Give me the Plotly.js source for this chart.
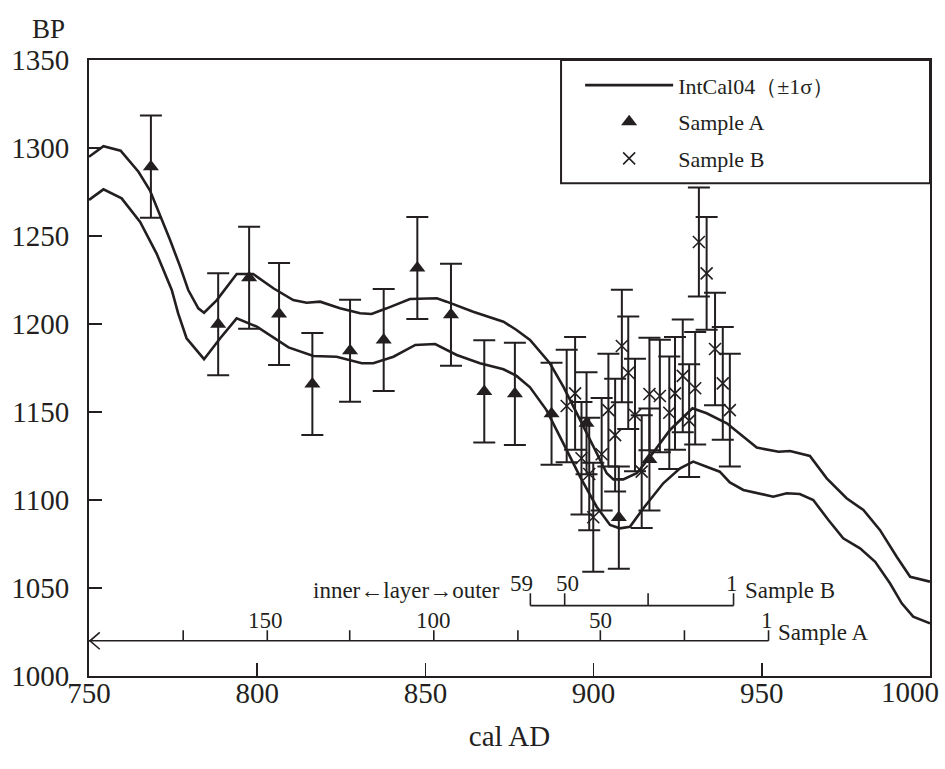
<!DOCTYPE html>
<html>
<head>
<meta charset="utf-8">
<script src="https://cdn.plot.ly/plotly-3.0.1.min.js"></script>
<style>html,body{margin:0;padding:0;background:#fff;}#chart{width:945px;height:769px;}</style>
</head>
<body>
<div id="chart"></div>
<script>
// IntCal04 ±1σ band (cal AD, BP)
const calYears = [750,754.3,759.4,764.7,768.1,771.1,774.1,777.1,779.5,782.5,784.2,788,793.9,798.8,804.8,810.7,814.7,818.7,824.6,830.6,834,838.5,845.4,853.4,856.3,864.2,873.2,877.1,881.1,887,891,896,899.9,903.9,905.9,908.8,912.8,916.8,922.7,929.4,933.6,939.6,948.5,955,958.4,964.3,969.3,975.2,980.2,985.1,990.1,994.1,1000];
const upperBP = [1295,1301,1298.5,1286.5,1276,1262,1247.7,1232.6,1219.3,1208.9,1206.4,1213.6,1228.4,1228.4,1220.3,1213.6,1212.1,1212.7,1208.9,1206.1,1205.7,1208.9,1214.2,1214.6,1212.7,1207,1201.3,1196.6,1190.9,1177.7,1164.4,1145.5,1130.3,1115.2,1111.7,1111.7,1115.2,1124.6,1139.8,1152.1,1149.3,1143.6,1129.8,1127.4,1127.8,1125,1112.3,1101,1094.3,1083,1067.8,1056.4,1053.6];
const calYearsLow = [750,754.3,759.7,765.2,770.1,774.6,776.5,779,784.2,789,793.9,799.9,809.3,816.7,823.6,831.1,834.5,840.5,847,852.9,859.3,866.2,873.2,877.1,881.1,886,891,896,900.9,904.9,907.8,910.8,914.8,920.7,925.7,929.6,933.6,937.5,940.5,944.5,953.4,957.4,961.3,965.3,969.8,974.2,979.2,983.7,988.1,991.6,995,1000];
const lowerBP = [1270.5,1276.5,1271.4,1258,1240,1219.3,1206,1191.9,1180,1191.9,1203.2,1198.5,1186.7,1181.8,1181.4,1177.7,1177.7,1181.4,1188.1,1188.6,1182.4,1177.7,1174.3,1170.5,1164,1151.1,1132.2,1113.2,1096.2,1085.8,1083.9,1084.8,1095.3,1109.5,1118,1121.8,1118.9,1116.1,1110,1105.7,1101.9,1103.8,1103.4,1100,1088.6,1078.2,1072.5,1064.9,1052.7,1041.3,1033.7,1029.9];

// Sample A
const aYear = [768.4,788.4,797.6,806.5,816.4,827.6,837.6,847.6,857.6,867.5,876.6,887.5,897.9,907.5,916.6];
const aBP   = [1289.4,1199.9,1226.3,1205.7,1165.9,1184.8,1190.9,1231.8,1205.3,1161.7,1160.3,1149,1143.6,1090,1123];
const aErr  = [29,29,29,29,29,29,29,29,29,29,29,29,29,29,29];

// Sample B
const bYear = [892,894.5,896.4,898.7,899.9,902.4,904.4,906.4,908.4,910.3,912.3,914.3,916.6,919.7,922.5,924.2,926.5,928.4,930.2,931.3,933.6,936.1,938.4,940.5];
const bBP   = [1153.4,1160.6,1123.7,1114.8,1090.2,1126,1151.1,1136.9,1187.5,1172.3,1148.3,1116.1,1160.2,1159.1,1149.6,1160.6,1170.5,1145.1,1163.5,1246.6,1228.8,1185.8,1166.3,1151.1];
const bErr  = [32,32,32,32,31,32,32,32,32,32,32,32,32,32,32,32,32,32,32,31,32,32,32,32];

// Tree-ring scales
const ringTicksA = [175,150,125,100,75,50,25,1];
const ringTickYearA = [778,803,827.5,852.5,877.5,902,927,952];
const ringLabelsA = ['150','100','50','1'];
const ringLabelYearA = [802.5,852.3,902,951.4];
const ringTicksB = [59,50,25,1];
const ringTickYearB = [881.2,891.4,916.2,941.6];
const ringLabelsB = ['59','50','1'];
const ringLabelYearB = [878.6,892.2,941.2];

// Axis ticks (the last x label is drawn right-aligned so it stays inside the page)
const xTickVals = [750,800,850,900,950,1000];
const xTickText = ['750','800','850','900','950',''];
const xLastLabel = '1000';
const yTickVals = [1000,1050,1100,1150,1200,1250,1300,1350];

const INK = '#231f20';
const FONT = 'Liberation Serif, Times New Roman, serif';
const scaleAY = 1020, scaleBY = 1040;

const traces = [
  {x: calYears, y: upperBP, type:'scatter', mode:'lines', name:'IntCal04（±1σ）', legendgroup:'ic',
   line:{color:INK, width:2.6}},
  {x: calYearsLow, y: lowerBP, type:'scatter', mode:'lines', name:'IntCal04 lower', legendgroup:'ic', showlegend:false,
   line:{color:INK, width:2.6}},
  {x: aYear, y: aBP, type:'scatter', mode:'markers', name:'Sample A', legendgroup:'a',
   marker:{symbol:'triangle-up', size:14, color:INK},
   error_y:{type:'data', array:aErr, visible:true, color:INK, thickness:2, width:11}},
  {x: bYear, y: bBP, type:'scatter', mode:'markers', name:'Sample B', legendgroup:'b',
   marker:{symbol:'x-thin-open', size:12, color:INK, line:{color:INK, width:1.6}},
   error_y:{type:'data', array:bErr, visible:true, color:INK, thickness:2, width:11}}
];

const shapes = [];
const lineStyle = {color:INK, width:1.6};
// Sample A scale
shapes.push({type:'line', xref:'x', yref:'y', x0:750, x1:ringTickYearA[ringTickYearA.length-1], y0:scaleAY, y1:scaleAY, line:lineStyle});
ringTickYearA.forEach(function(yr){
  shapes.push({type:'line', xref:'x', yref:'y', x0:yr, x1:yr, y0:scaleAY, y1:scaleAY+6, line:lineStyle});
});
shapes.push({type:'path', xref:'x', yref:'y', path:'M 753.2,' + (scaleAY+4.8) + ' L 750.3,' + scaleAY + ' L 753.2,' + (scaleAY-4.8), line:lineStyle});
// Sample B scale
shapes.push({type:'line', xref:'x', yref:'y', x0:ringTickYearB[0], x1:ringTickYearB[ringTickYearB.length-1], y0:scaleBY, y1:scaleBY, line:lineStyle});
ringTickYearB.forEach(function(yr){
  shapes.push({type:'line', xref:'x', yref:'y', x0:yr, x1:yr, y0:scaleBY, y1:scaleBY+7, line:lineStyle});
});
// legend frame
shapes.push({type:'rect', xref:'paper', yref:'paper', x0:0.5613, x1:1, y0:0.8, y1:1, line:{color:INK, width:2}, fillcolor:'rgba(0,0,0,0)', layer:'above'});

const annFont = {family:FONT, size:23, color:INK};
const annotations = [];
ringLabelsA.forEach(function(t,i){
  annotations.push({x:ringLabelYearA[i], y:1031.5, xref:'x', yref:'y', text:t, showarrow:false, font:annFont, xanchor:'center', yanchor:'middle'});
});
ringLabelsB.forEach(function(t,i){
  annotations.push({x:ringLabelYearB[i], y:1052.8, xref:'x', yref:'y', text:t, showarrow:false, font:annFont, xanchor:'center', yanchor:'middle'});
});
annotations.push({x:ringTickYearA[ringTickYearA.length-1], y:1025, xref:'x', yref:'y', text:'Sample A', showarrow:false, font:annFont, xanchor:'left', yanchor:'middle', xshift:7});
annotations.push({x:ringTickYearB[ringTickYearB.length-1], y:1048.3, xref:'x', yref:'y', text:'Sample B', showarrow:false, font:annFont, xanchor:'left', yanchor:'middle', xshift:9});
annotations.push({x:ringTickYearB[0], y:1048.3, xref:'x', yref:'y', text:'inner←layer→outer', showarrow:false, font:annFont, xanchor:'right', yanchor:'middle', xshift:-28});
annotations.push({x:-0.0702, y:1.0503, xref:'paper', yref:'paper', text:'BP', showarrow:false, font:{family:FONT, size:27, color:INK}, xanchor:'left', yanchor:'middle'});
annotations.push({x:xTickVals[xTickVals.length-1], y:0, xref:'x', yref:'paper', text:xLastLabel, showarrow:false,
  font:{family:FONT, size:29, color:INK}, xanchor:'right', yanchor:'middle', xshift:11, yshift:-16});

const layout = {
  width:945, height:769,
  margin:{l:89, r:15, t:60, b:93},
  paper_bgcolor:'#fff', plot_bgcolor:'#fff',
  font:{family:FONT, color:INK},
  showlegend:true,
  legend:{x:0.584, xanchor:'left', y:0.993, yanchor:'top', bgcolor:'rgba(0,0,0,0)', borderwidth:0,
          font:{family:FONT, size:22, color:INK}, tracegroupgap:5, itemwidth:88},
  xaxis:{range:[750,1000], tickmode:'array', tickvals:xTickVals, ticktext:xTickText,
         ticks:'inside', ticklen:13, tickwidth:1.6, tickcolor:INK,
         showline:true, linecolor:INK, linewidth:2, mirror:true, showgrid:false, zeroline:false,
         tickfont:{family:FONT, size:29, color:INK}, ticklabelstandoff:-10,
         title:{text:'cal AD', font:{family:FONT, size:29, color:INK}, standoff:18}},
  yaxis:{range:[1000,1350], tickmode:'array', tickvals:yTickVals,
         ticks:'inside', ticklen:13, tickwidth:1.6, tickcolor:INK,
         showline:true, linecolor:INK, linewidth:2, mirror:true, showgrid:false, zeroline:false,
         tickfont:{family:FONT, size:29, color:INK}, ticklabelstandoff:12},
  shapes:shapes,
  annotations:annotations
};

Plotly.newPlot('chart', traces, layout, {staticPlot:true, displayModeBar:false});
</script>
</body>
</html>
